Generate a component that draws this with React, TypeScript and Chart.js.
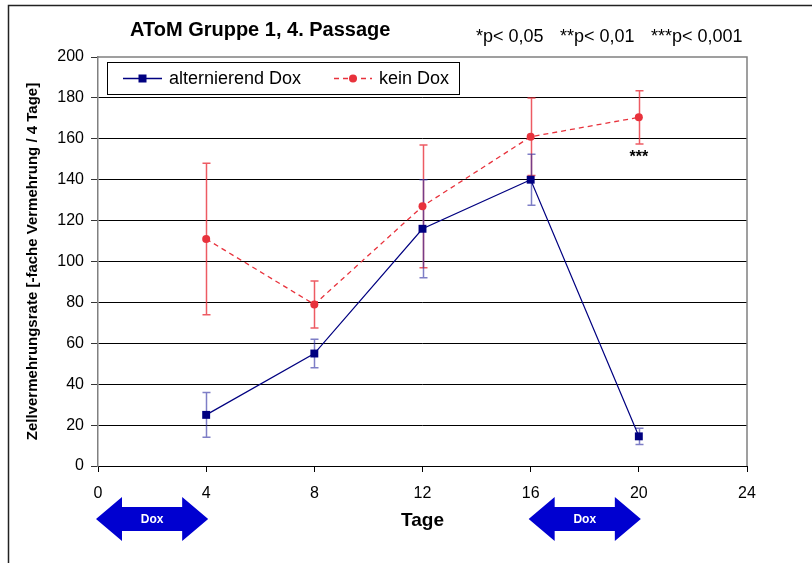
import React, { useEffect, useRef } from "react";
import { Chart, registerables } from "chart.js";

Chart.register(...registerables);

const days = [4, 8, 12, 16, 20];
const alternValues = [25, 55, 116, 140, 14.5];
const alternErrors = [11, 7, 24, 12.5, 4];
const keinValues = [111, 79, 127, 161, 170.5];
const keinErrors = [37, 11.5, 30, 19, 13];
const dosePeriods: [number, number][] = [[0, 4], [16, 20]];
const significance = [{ day: 20, label: "***" }];
const seriesNames = ["alternierend Dox", "kein Dox"];
const chartTitle = "AToM Gruppe 1, 4. Passage";
const pLegend = ["*p< 0,05", "**p< 0,01", "***p< 0,001"];
const xTitle = "Tage";
const yTitle = "Zellvermehrungsrate [-fache Vermehrung / 4 Tage]";

const FONT = "'Liberation Sans', Arial, Helvetica, sans-serif";
const BLUE = "#000080";
const RED = "#E8323C";

const extras = {
  id: "extras",
  beforeDraw(chart: any) {
    const { ctx, width, height } = chart;
    ctx.save();
    ctx.fillStyle = "#fff";
    ctx.fillRect(0, 0, width, height);
    ctx.strokeStyle = "#222";
    ctx.lineWidth = 1.5;
    ctx.beginPath();
    ctx.moveTo(8.5, height);
    ctx.lineTo(8.5, 5.5);
    ctx.lineTo(width, 5.5);
    ctx.stroke();
    ctx.restore();
  },
  beforeDatasetsDraw(chart: any) {
    const { ctx } = chart;
    const xs = chart.scales.x;
    const ys = chart.scales.y;
    const drawErr = (vals: number[], errs: number[], color: string) => {
      ctx.save();
      ctx.strokeStyle = color;
      ctx.lineWidth = 1.5;
      vals.forEach((v, i) => {
        const x = Math.round(xs.getPixelForValue(days[i])) + 0.5;
        const y1 = ys.getPixelForValue(v + errs[i]);
        const y2 = ys.getPixelForValue(v - errs[i]);
        ctx.beginPath();
        ctx.moveTo(x, y1);
        ctx.lineTo(x, y2);
        ctx.moveTo(x - 4, y1);
        ctx.lineTo(x + 4, y1);
        ctx.moveTo(x - 4, y2);
        ctx.lineTo(x + 4, y2);
        ctx.stroke();
      });
      ctx.restore();
    };
    drawErr(keinValues, keinErrors, "rgba(232,50,60,0.8)");
    drawErr(alternValues, alternErrors, "rgba(40,40,160,0.6)");
  },
  afterDraw(chart: any) {
    const { ctx, chartArea } = chart;
    const xs = chart.scales.x;
    const ys = chart.scales.y;
    ctx.save();
    // top & right border
    ctx.strokeStyle = "#808080";
    ctx.lineWidth = 1.5;
    ctx.beginPath();
    ctx.moveTo(chartArea.left, chartArea.top);
    ctx.lineTo(chartArea.right, chartArea.top);
    ctx.lineTo(chartArea.right, chartArea.bottom);
    ctx.stroke();

    // legend
    const lx = 107.5, ly = 62.5, lw = 352, lh = 32;
    ctx.fillStyle = "#fff";
    ctx.fillRect(lx, ly, lw, lh);
    ctx.strokeStyle = "#000";
    ctx.lineWidth = 1;
    ctx.strokeRect(lx, ly, lw, lh);
    const cy = ly + lh / 2;
    ctx.strokeStyle = BLUE;
    ctx.lineWidth = 1.3;
    ctx.beginPath();
    ctx.moveTo(123, cy);
    ctx.lineTo(162, cy);
    ctx.stroke();
    ctx.fillStyle = BLUE;
    ctx.fillRect(142.5 - 4, cy - 4, 8, 8);
    ctx.strokeStyle = RED;
    ctx.setLineDash([5, 4]);
    ctx.beginPath();
    ctx.moveTo(334, cy);
    ctx.lineTo(372, cy);
    ctx.stroke();
    ctx.setLineDash([]);
    ctx.fillStyle = RED;
    ctx.beginPath();
    ctx.arc(353, cy, 4, 0, Math.PI * 2);
    ctx.fill();
    ctx.fillStyle = "#000";
    ctx.font = `18px ${FONT}`;
    ctx.textBaseline = "middle";
    ctx.textAlign = "left";
    ctx.fillText(seriesNames[0], 169, cy + 1);
    ctx.fillText(seriesNames[1], 379, cy + 1);

    // titles
    ctx.font = `bold 20px ${FONT}`;
    ctx.fillText(chartTitle, 130, 30);
    ctx.font = `18px ${FONT}`;
    ctx.fillText(pLegend[0], 476, 37);
    ctx.fillText(pLegend[1], 560, 37);
    ctx.fillText(pLegend[2], 651, 37);

    // significance
    ctx.font = `bold 16px ${FONT}`;
    ctx.textAlign = "center";
    significance.forEach((s) => {
      const i = days.indexOf(s.day);
      const x = xs.getPixelForValue(s.day);
      const y = ys.getPixelForValue(keinValues[i] - keinErrors[i]) + 14;
      ctx.fillText(s.label, x, y);
    });

    // dose arrows
    const ay = 519;
    dosePeriods.forEach(([a, b]) => {
      const x1 = xs.getPixelForValue(a) - 2;
      const x2 = xs.getPixelForValue(b) + 2;
      const head = 26;
      ctx.fillStyle = "#0000D0";
      ctx.beginPath();
      ctx.moveTo(x1, ay);
      ctx.lineTo(x1 + head, ay - 22);
      ctx.lineTo(x1 + head, ay - 12);
      ctx.lineTo(x2 - head, ay - 12);
      ctx.lineTo(x2 - head, ay - 22);
      ctx.lineTo(x2, ay);
      ctx.lineTo(x2 - head, ay + 22);
      ctx.lineTo(x2 - head, ay + 12);
      ctx.lineTo(x1 + head, ay + 12);
      ctx.lineTo(x1 + head, ay + 22);
      ctx.closePath();
      ctx.fill();
      ctx.fillStyle = "#fff";
      ctx.font = `bold 12px ${FONT}`;
      ctx.textAlign = "center";
      ctx.fillText("Dox", (x1 + x2) / 2, ay + 1);
    });
    ctx.restore();
  },
};

export default function App() {
  const ref = useRef<HTMLCanvasElement>(null);
  useEffect(() => {
    if (!ref.current) return;
    const chart = new Chart(ref.current, {
      type: "line",
      data: {
        datasets: [
          {
            label: seriesNames[0],
            data: days.map((d, i) => ({ x: d, y: alternValues[i] })),
            borderColor: BLUE,
            backgroundColor: BLUE,
            borderWidth: 1.2,
            pointStyle: "rect",
            pointRadius: 5.6,
            pointBorderWidth: 0,
            tension: 0,
          },
          {
            label: seriesNames[1],
            data: days.map((d, i) => ({ x: d, y: keinValues[i] })),
            borderColor: RED,
            backgroundColor: RED,
            borderWidth: 1.3,
            borderDash: [5, 4],
            pointStyle: "circle",
            pointRadius: 4,
            pointBorderWidth: 0,
            tension: 0,
          },
        ],
      },
      options: {
        responsive: false,
        animation: false,
        events: [],
        layout: { padding: { left: 20, right: 65, top: 57, bottom: 27 } },
        plugins: { legend: { display: false }, tooltip: { enabled: false }, title: { display: false } },
        scales: {
          x: {
            type: "linear",
            min: 0,
            max: 24,
            afterFit: (s: any) => { s.height = 70; },
            ticks: { stepSize: 4, color: "#000", font: { family: FONT, size: 16 }, padding: 12, maxRotation: 0 },
            grid: { display: true, drawOnChartArea: false, drawTicks: true, tickLength: 6, color: "#000", tickColor: "#000" },
            border: { display: true, color: "#000", width: 1 },
            title: { display: true, text: xTitle, color: "#000", font: { family: FONT, size: 19, weight: "bold" }, padding: { top: 0, bottom: 4 } },
          },
          y: {
            min: 0,
            max: 200,
            afterFit: (s: any) => { s.width = 78; },
            ticks: { stepSize: 20, color: "#000", font: { family: FONT, size: 16 }, padding: 7 },
            grid: {
              color: (c: any) => (c.tick && c.tick.value === 200 ? "rgba(0,0,0,0)" : "#000"),
              tickColor: "#333",
              tickLength: 7,
              lineWidth: 1,
            },
            border: { display: true, color: "#808080", width: 1.5 },
            title: { display: true, text: yTitle, color: "#000", font: { family: FONT, size: 15, weight: "bold" }, padding: { top: 4, bottom: 0 } },
          },
        },
      },
      plugins: [extras],
    });
    return () => chart.destroy();
  }, []);
  return (
    <div style={{ position: "fixed", left: 0, top: 0, width: 812, height: 563, background: "#fff" }}>
      <canvas ref={ref} width={812} height={563} style={{ display: "block", width: 812, height: 563 }} />
    </div>
  );
}
